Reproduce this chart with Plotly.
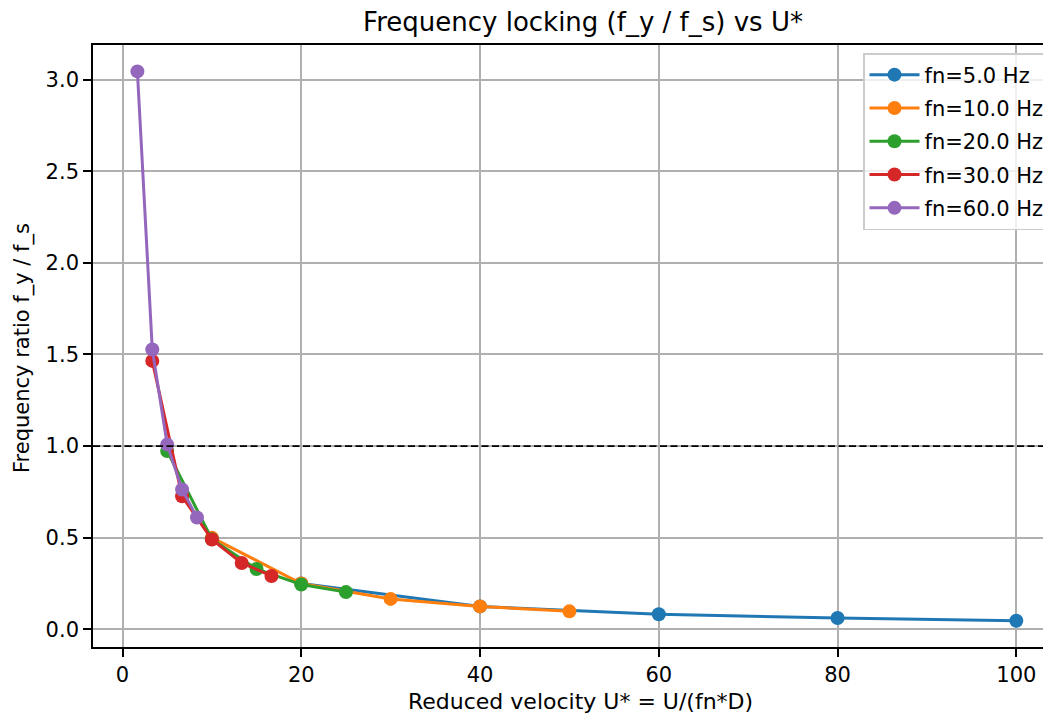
import plotly.graph_objects as go

# Data
names = ["fn=5.0 Hz", "fn=10.0 Hz", "fn=20.0 Hz", "fn=30.0 Hz", "fn=60.0 Hz"]
colors = ["#1f77b4", "#ff7f0e", "#2ca02c", "#d62728", "#9467bd"]

u_fn5 = [20, 40, 60, 80, 100]
r_fn5 = [0.250, 0.125, 0.082, 0.062, 0.047]

u_fn10 = [10, 20, 30, 40, 50]
r_fn10 = [0.500, 0.250, 0.166, 0.125, 0.098]

u_fn20 = [5, 10, 15, 20, 25]
r_fn20 = [0.973, 0.492, 0.329, 0.244, 0.203]

u_fn30 = [3.333, 6.667, 10.0, 13.333, 16.667]
r_fn30 = [1.465, 0.726, 0.490, 0.362, 0.291]

u_fn60 = [1.667, 3.333, 5.0, 6.667, 8.333]
r_fn60 = [3.045, 1.527, 1.008, 0.763, 0.610]

xs = [u_fn5, u_fn10, u_fn20, u_fn30, u_fn60]
ys = [r_fn5, r_fn10, r_fn20, r_fn30, r_fn60]

x_ticks = [0, 20, 40, 60, 80, 100]
y_ticks = [0.0, 0.5, 1.0, 1.5, 2.0, 2.5, 3.0]
y_tick_text = ["0.0", "0.5", "1.0", "1.5", "2.0", "2.5", "3.0"]

FONT = "DejaVu Sans"
FS = 21

fig = go.Figure()
for i in range(5):
    fig.add_trace(go.Scatter(
        x=xs[i], y=ys[i], mode="lines+markers", name=names[i],
        legendgroup=names[i],
        line=dict(color=colors[i], width=3),
        marker=dict(color=colors[i], size=14),
    ))

# horizontal reference line at ratio 1
fig.add_shape(type="line", xref="paper", x0=0, x1=1, yref="y", y0=1, y1=1,
              line=dict(color="black", width=1.6, dash="7px,3.5px"), layer="above")

# page body has an 8px margin -> shrink the figure by 8px
OFF = 8
W, H = 1051 - OFF, 715 - OFF
L, R, T = 93 - OFF, 0, 45 - OFF
PW, PH = W - L - R, 602
B = H - T - PH

fig.update_layout(
    width=W, height=H,
    margin=dict(l=L, r=R, t=T, b=B, pad=0),
    plot_bgcolor="white", paper_bgcolor="white",
    font=dict(family=FONT, size=FS, color="black"),
    title=dict(text="Frequency locking (f_y / f_s) vs U*",
               x=(583 - 93) / PW, xref="paper",
               y=1 - (22 - OFF) / H, yref="container", xanchor="center", yanchor="middle",
               font=dict(size=26, family=FONT, color="black")),
    showlegend=True,
    legend=dict(x=(1050 - 93) / PW, y=1 - (53 - 45) / PH,
                xanchor="right", yanchor="top",
                bgcolor="rgba(255,255,255,0.8)", bordercolor="#cccccc", borderwidth=1.5,
                font=dict(size=FS, family=FONT, color="black"),
                itemwidth=50, tracegroupgap=3),
    xaxis=dict(range=[-3.3, 103.88], tickvals=x_ticks, ticks="outside", ticklen=8,
               tickwidth=1.6, tickcolor="black", showline=True, linecolor="black",
               linewidth=1.6, mirror=True, showgrid=True, gridcolor="#b0b0b0",
               gridwidth=1.5, zeroline=False, tickfont=dict(size=FS, family=FONT)),
    yaxis=dict(range=[-0.0966, 3.189], tickvals=y_ticks, ticktext=y_tick_text,
               ticks="outside", ticklen=8, tickwidth=1.6, tickcolor="black",
               showline=True, linecolor="black", linewidth=1.6, mirror=False,
               showgrid=True, gridcolor="#b0b0b0", gridwidth=1.5, zeroline=False,
               tickfont=dict(size=FS, family=FONT)),
    annotations=[
        dict(text="Reduced velocity U* = U/(fn*D)", xref="paper", yref="paper",
             x=(580 - 93) / PW, y=-(701 - 647) / PH, xanchor="center", yanchor="middle",
             showarrow=False, font=dict(size=22, family=FONT, color="black")),
        dict(text="Frequency ratio f_y / f_s", xref="paper", yref="paper",
             x=(22 - 93) / PW, y=1 - (348 - 45) / PH,
             xanchor="center", yanchor="middle", textangle=-90,
             showarrow=False, font=dict(size=FS, family=FONT, color="black")),
    ],
)

fig.write_html("out.html")
